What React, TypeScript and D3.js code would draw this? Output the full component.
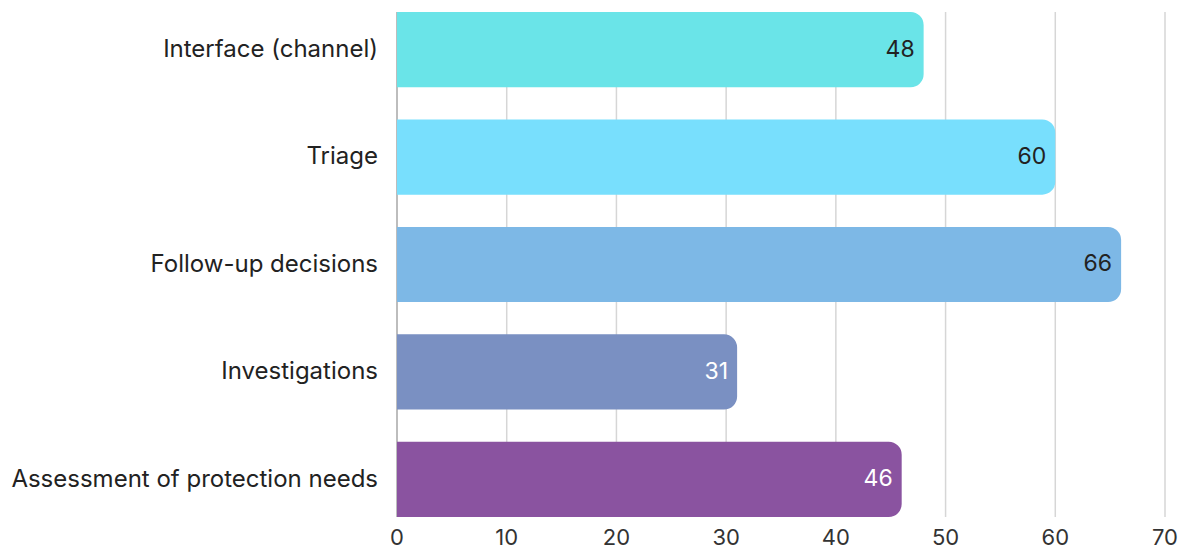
import React, { useEffect, useRef } from "react";
import * as d3 from "d3";

const categories = [
  "Interface (channel)",
  "Triage",
  "Follow-up decisions",
  "Investigations",
  "Assessment of protection needs",
];
const values = [48, 60, 66, 31, 46];
const barColors = ["#6ae4e8", "#78dffd", "#7db8e6", "#7a90c2", "#8a53a0"];
const labelColors = ["#222222", "#222222", "#222222", "#ffffff", "#ffffff"];
const xTicks = [0, 10, 20, 30, 40, 50, 60, 70];

const W = 1188;
const H = 550;
const FONT = "Inter, 'Noto Sans', sans-serif";

// Horizontal bar with square left end and rounded right end
function barPath(x0: number, x1: number, y0: number, h: number, r: number) {
  const rr = Math.min(r, (x1 - x0) / 2, h / 2);
  return `M${x0},${y0}H${x1 - rr}A${rr},${rr} 0 0 1 ${x1},${y0 + rr}V${y0 + h - rr}A${rr},${rr} 0 0 1 ${x1 - rr},${y0 + h}H${x0}Z`;
}

export default function App() {
  const ref = useRef<SVGSVGElement>(null);

  useEffect(() => {
    document.body.style.margin = "0";
    const svg = d3.select(ref.current);
    svg.selectAll("*").remove();

    const x = d3.scaleLinear().domain([0, 70]).range([397, 1165]);
    const y = d3
      .scaleBand<string>()
      .domain(categories)
      .range([12, 517])
      .paddingInner(0.3)
      .paddingOuter(0);

    const top = 12;
    const bottom = 517;

    // vertical gridlines
    svg
      .append("g")
      .selectAll("line")
      .data(xTicks.slice(1))
      .join("line")
      .attr("x1", (d) => x(d))
      .attr("x2", (d) => x(d))
      .attr("y1", top)
      .attr("y2", bottom)
      .attr("stroke", "#d6d6d6")
      .attr("stroke-width", 1.5);

    // baseline axis
    svg
      .append("line")
      .attr("x1", x(0))
      .attr("x2", x(0))
      .attr("y1", top)
      .attr("y2", bottom)
      .attr("stroke", "#bdbdbd")
      .attr("stroke-width", 2);

    const rows = categories.map((c, i) => ({ c, v: values[i], i }));

    // bars
    svg
      .append("g")
      .selectAll("path")
      .data(rows)
      .join("path")
      .attr("d", (d) => barPath(x(0), x(d.v), y(d.c)!, y.bandwidth(), 13))
      .attr("fill", (d) => barColors[d.i]);

    // value labels inside bar ends
    svg
      .append("g")
      .selectAll("text")
      .data(rows)
      .join("text")
      .attr("x", (d) => x(d.v) - 9)
      .attr("y", (d) => y(d.c)! + y.bandwidth() / 2)
      .attr("dy", "0.3em")
      .attr("text-anchor", "end")
      .attr("font-family", FONT)
      .attr("font-size", 23)
      .attr("fill", (d) => labelColors[d.i])
      .text((d) => d.v);

    // category labels
    svg
      .append("g")
      .selectAll("text")
      .data(rows)
      .join("text")
      .attr("x", 378)
      .attr("y", (d) => y(d.c)! + y.bandwidth() / 2)
      .attr("dy", "0.3em")
      .attr("text-anchor", "end")
      .attr("font-family", FONT)
      .attr("font-size", 24)
      .attr("fill", "#222222")
      .text((d) => d.c);

    // x tick labels
    svg
      .append("g")
      .selectAll("text")
      .data(xTicks)
      .join("text")
      .attr("x", (d) => x(d))
      .attr("y", 545)
      .attr("text-anchor", "middle")
      .attr("font-family", FONT)
      .attr("font-size", 22)
      .attr("fill", "#333333")
      .text((d) => d);
  }, []);

  return (
    <svg
      ref={ref}
      width={W}
      height={H}
      style={{ display: "block", background: "#ffffff" }}
    />
  );
}
